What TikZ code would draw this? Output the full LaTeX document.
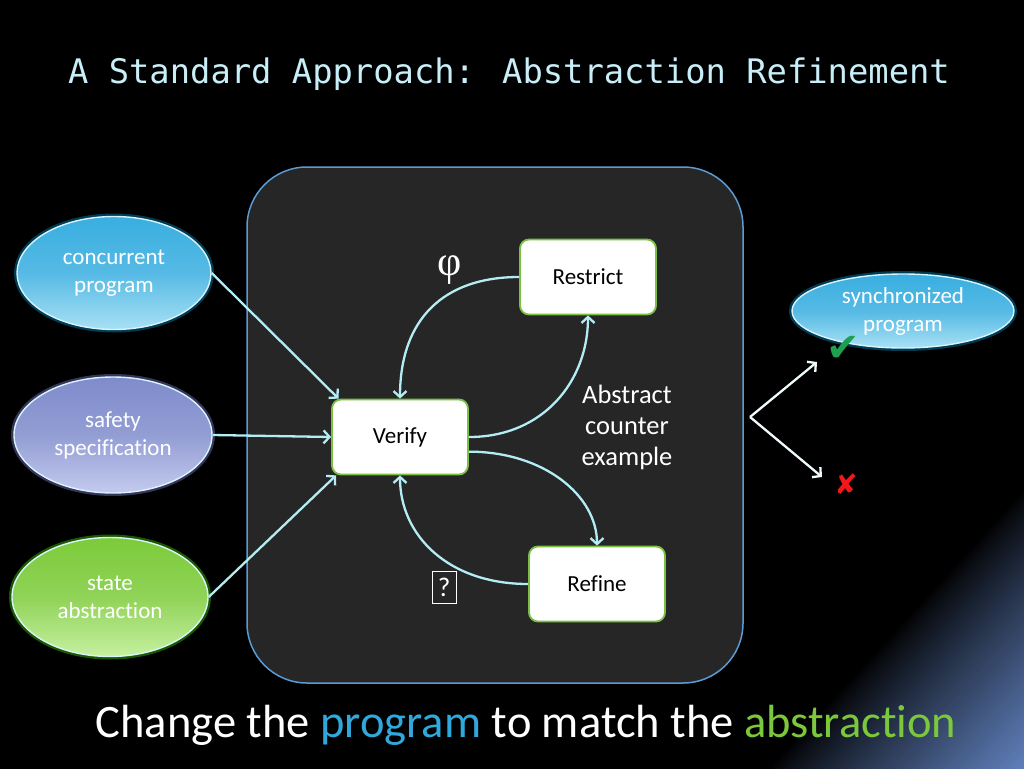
\documentclass[tikz,border=0pt]{standalone}
\usepackage{fontspec}
\setmainfont{Carlito}[RawFeature={-liga;-calt;-dlig}]
\newfontfamily\monofont{DejaVu Sans Mono}
\newfontfamily\symfont{DejaVu Sans}
\newfontfamily\serifsym{Liberation Serif}
\usetikzlibrary{shapes.geometric,arrows.meta}
\definecolor{bgbox}{HTML}{262626}
\definecolor{boxborder}{HTML}{5B9BD5}
\definecolor{boxgreen}{HTML}{7AC143}
\definecolor{arrowc}{HTML}{B4ECF4}
\definecolor{titlec}{HTML}{C8EEF8}
\definecolor{progblue}{HTML}{2FA8DC}
\definecolor{absgreen}{HTML}{7CC83C}
\definecolor{cyantop}{HTML}{38AEE0}
\definecolor{cyanbot}{HTML}{A8E0F4}
\definecolor{lavtop}{HTML}{7F8CCC}
\definecolor{lavbot}{HTML}{C4CAEE}
\definecolor{grntop}{HTML}{7CCB3A}
\definecolor{grnbot}{HTML}{C6F0A0}
\definecolor{checkc}{HTML}{1FA050}
\definecolor{crossc}{HTML}{F01818}
\definecolor{cornerblue}{HTML}{6080BC}
\tikzset{
  oval/.style={ellipse, draw=white!85!cyan, line width=1.4pt, text=white,
    font=\fontsize{23}{28}\selectfont, align=center, inner sep=0pt,
    preaction={draw=#1, line width=6pt, draw opacity=0.35}},
  stepbox/.style={draw=boxgreen, fill=white, line width=1.8pt, rounded corners=9pt,
    minimum width=136pt, minimum height=75pt, font=\fontsize{23}{26}\selectfont, text=black},
  arr/.style={draw=arrowc, line width=2.3pt, -{Straight Barb[length=6pt,width=13pt,line width=2.3pt]}},
}
\begin{document}
\begin{tikzpicture}[x=1pt,y=-1pt]
\useasboundingbox (0,0) rectangle (1024,768);
\begin{scope}
  \clip (-4,-4) rectangle (1028,772);
  \fill[black] (-4,-4) rectangle (1028,772);
  \foreach \i in {0,...,59}{
    \pgfmathsetmacro\s{1-\i/60}
    \pgfmathsetmacro\p{100*(\i/60)^0.85}
    \fill[cornerblue!\p!black] (1030,774) -- ({1024-257*\s},774) -- ({1024-257*\s},768)
      -- (1024,{768-281*\s}) -- (1030,{768-281*\s}) -- cycle;
  }
\end{scope}

% title
\node[font=\monofont\fontsize{33.8}{40}\selectfont, text=titlec] (title) at (509,74)
  {A Standard Approach: Abstraction Refinement};

% frame
\node[draw=boxborder, fill=bgbox, line width=1.5pt, rounded corners=60pt,
  minimum width=496pt, minimum height=516pt] (frame) at (495,425) {};

% inputs
\node[oval=cyan, top color=cyantop, bottom color=cyanbot, middle color=cyantop!85!white,
  minimum width=194pt, minimum height=113pt] (cp) at (114,273) {concurrent\\program};
\node[oval=blue!40!white, top color=lavtop, bottom color=lavbot, middle color=lavtop!85!white,
  minimum width=198pt, minimum height=116pt] (ss) at (113,435) {safety\\specification};
\node[oval=green!70!yellow, top color=grntop, bottom color=grnbot, middle color=grntop!85!white,
  minimum width=196pt, minimum height=119pt] (sa) at (110,597) {state\\abstraction};
\node[oval=cyan, top color=cyantop, bottom color=cyanbot, middle color=cyantop!85!white,
  minimum width=222pt, minimum height=74pt] (sp) at (903,311) {synchronized\\program};

% boxes
\node[stepbox] (restrict) at (588,277) {Restrict};
\node[stepbox] (verify) at (400,437) {Verify};
\node[stepbox] (refine) at (597,584) {Refine};

% input arrows
\draw[arr] (cp.east) -- (verify.148);
\draw[arr] (ss.east) -- (verify.west);
\draw[arr] (sa.east) -- (verify.211);

% loop arrows
\draw[arr] (restrict.west) .. controls +(-75,0) and +(0,-80) .. (verify.north);
\draw[arr] (verify.east) .. controls +(75,0) and +(0,65) .. (restrict.south);
\draw[arr] (verify.-12) .. controls +(75,0) and +(0,-50) .. (refine.north);
\draw[arr] (refine.west) .. controls +(-80,0) and +(0,60) .. (verify.south);

% labels
\node[text=white, font=\serifsym\fontsize{42}{42}\selectfont] (phi) at (450,270) {φ};
\node[text=white, font=\fontsize{26.5}{31}\selectfont, align=center] (ace) at (627,427)
  {Abstract\\counter\\example};
\node[draw=white, line width=1pt, text=white, font=\fontsize{27}{27}\selectfont,
  minimum width=24pt, minimum height=32pt, inner sep=0pt] (tofu) at (444,587) {?};

% outcome
\coordinate (br) at (750,417);
\coordinate (okend) at (817,362);
\coordinate (failend) at (822,477);
\draw[arr, draw=white!80!arrowc] (br) -- (okend);
\draw[arr, draw=white!80!arrowc] (br) -- (failend);
\node[text=checkc, font=\symfont\fontsize{40}{40}\selectfont] (check) at (843,349) {✔};
\node[text=crossc, font=\symfont\fontsize{28}{28}\selectfont] (cross) at (846,484) {✘};

% bottom line
\node[text=white, font=\fontsize{46.5}{52}\selectfont] (bottom) at (526,725)
  {Change the \textcolor{progblue}{program} to match the \textcolor{absgreen}{abstraction}};
\end{tikzpicture}
\end{document}
